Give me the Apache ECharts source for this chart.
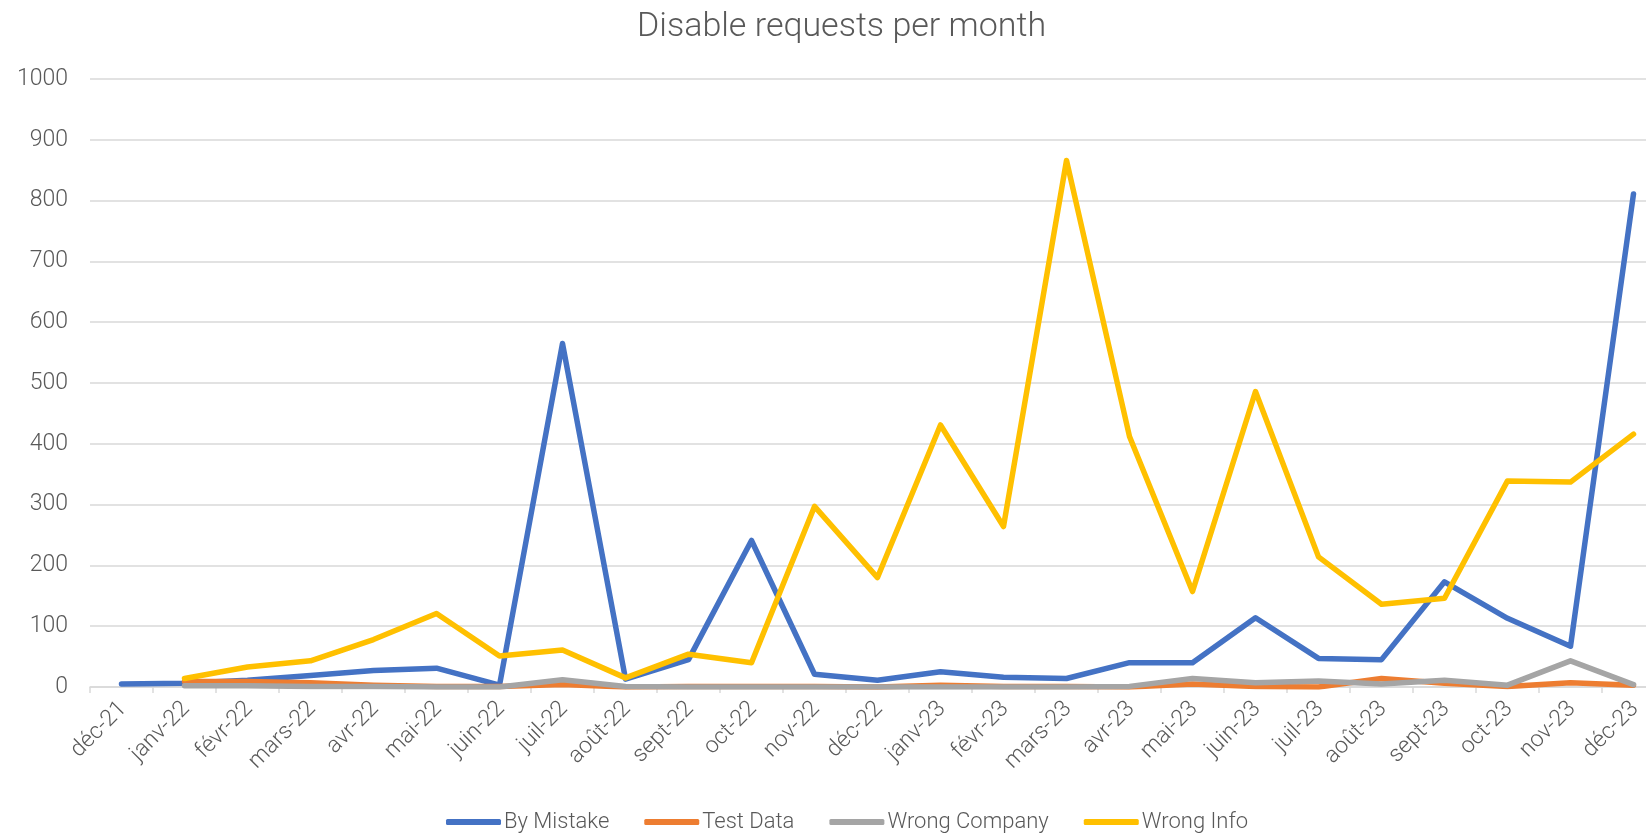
<!DOCTYPE html>
<html>
<head>
<meta charset="utf-8">
<title>Disable requests per month</title>
<script src="https://cdn.jsdelivr.net/npm/echarts@6/dist/echarts.min.js"></script>
<style>
  html, body { margin: 0; padding: 0; background: #fff; }
  #main { width: 1646px; height: 834px; }
</style>
</head>
<body>
<div id="main"></div>
<script>
// months, déc-21 .. déc-23
var months = ['déc-21', 'janv-22', 'févr-22', 'mars-22', 'avr-22', 'mai-22', 'juin-22', 'juil-22', 'août-22',
  'sept-22', 'oct-22', 'nov-22', 'déc-22', 'janv-23', 'févr-23', 'mars-23', 'avr-23', 'mai-23', 'juin-23',
  'juil-23', 'août-23', 'sept-23', 'oct-23', 'nov-23', 'déc-23'];

var byMistake = [5, 6, 11, 19, 27, 31, 3, 565, 13, 45, 241, 21, 11, 25, 16, 14, 40, 40, 114, 47, 45, 173, 113, 67, 811];
var testData = [null, 9, 9, 7, 3, 1, 1, 4, 0, 1, 1, 1, 0, 3, 1, 1, 0, 5, 1, 0, 14, 6, 1, 7, 3];
var wrongCompany = [null, 2, 2, 1, 1, 0, 0, 12, 1, 0, 0, 0, 0, 0, 0, 0, 1, 14, 7, 10, 5, 11, 3, 43, 4];
var wrongInfo = [null, 14, 33, 43, 78, 121, 51, 61, 15, 54, 40, 297, 180, 431, 264, 866, 412, 157, 486, 214, 136, 146, 339, 337, 416];

var yTicks = { min: 0, max: 1000, step: 100 };

var txt = '#595959';
var grid = '#d9d9d9';
var font = 'Roboto, Lato, "Noto Sans", sans-serif';

function line(name, data, color) {
  return {
    name: name,
    type: 'line',
    data: data,
    showSymbol: false,
    symbol: 'none',
    connectNulls: false,
    lineStyle: { width: 5.5, color: color, cap: 'round', join: 'round' },
    itemStyle: { color: color },
    emphasis: { disabled: true }
  };
}

var myChart = echarts.init(document.getElementById('main'));

var option = {
  animation: false,
  textStyle: { fontFamily: font },
  title: {
    text: 'Disable requests per month',
    left: 632,
    top: 5,
    textStyle: { fontFamily: font, fontSize: 34, fontWeight: 300, color: txt }
  },
  legend: {
    left: 441,
    top: 806,
    icon: 'roundRect',
    itemWidth: 55,
    itemHeight: 6,
    itemGap: 35,
    textStyle: { fontFamily: font, fontSize: 22, fontWeight: 300, color: txt, padding: [0, 0, 0, -2] },
    data: ['By Mistake', 'Test Data', 'Wrong Company', 'Wrong Info']
  },
  // the source chart is clipped on the right, so the plot runs past the page edge
  grid: { left: 90, top: 79, width: 1575, bottom: 147, containLabel: false, outerBoundsMode: 'none' },
  xAxis: {
    type: 'category',
    data: months,
    boundaryGap: true,
    axisLine: { show: true, lineStyle: { color: grid, width: 1.5 } },
    axisTick: { show: true, length: 6, lineStyle: { color: grid, width: 1.5 } },
    axisLabel: {
      rotate: 45,
      interval: 0,
      margin: 4,
      verticalAlign: 'top',
      padding: [0, 9, 0, 0],
      fontFamily: font,
      fontSize: 23,
      fontWeight: 300,
      color: txt
    }
  },
  yAxis: {
    type: 'value',
    min: yTicks.min,
    max: yTicks.max,
    interval: yTicks.step,
    axisLine: { show: false },
    axisTick: { show: false },
    splitLine: { lineStyle: { color: grid, width: 1.5 } },
    axisLabel: {
      margin: 22,
      fontFamily: font,
      fontSize: 23,
      fontWeight: 300,
      color: txt,
      formatter: function (v) { return String(v); }
    }
  },
  series: [
    line('By Mistake', byMistake, '#4472C4'),
    line('Test Data', testData, '#ED7D31'),
    line('Wrong Company', wrongCompany, '#A5A5A5'),
    line('Wrong Info', wrongInfo, '#FFC000')
  ]
};

myChart.setOption(option);
</script>
</body>
</html>
